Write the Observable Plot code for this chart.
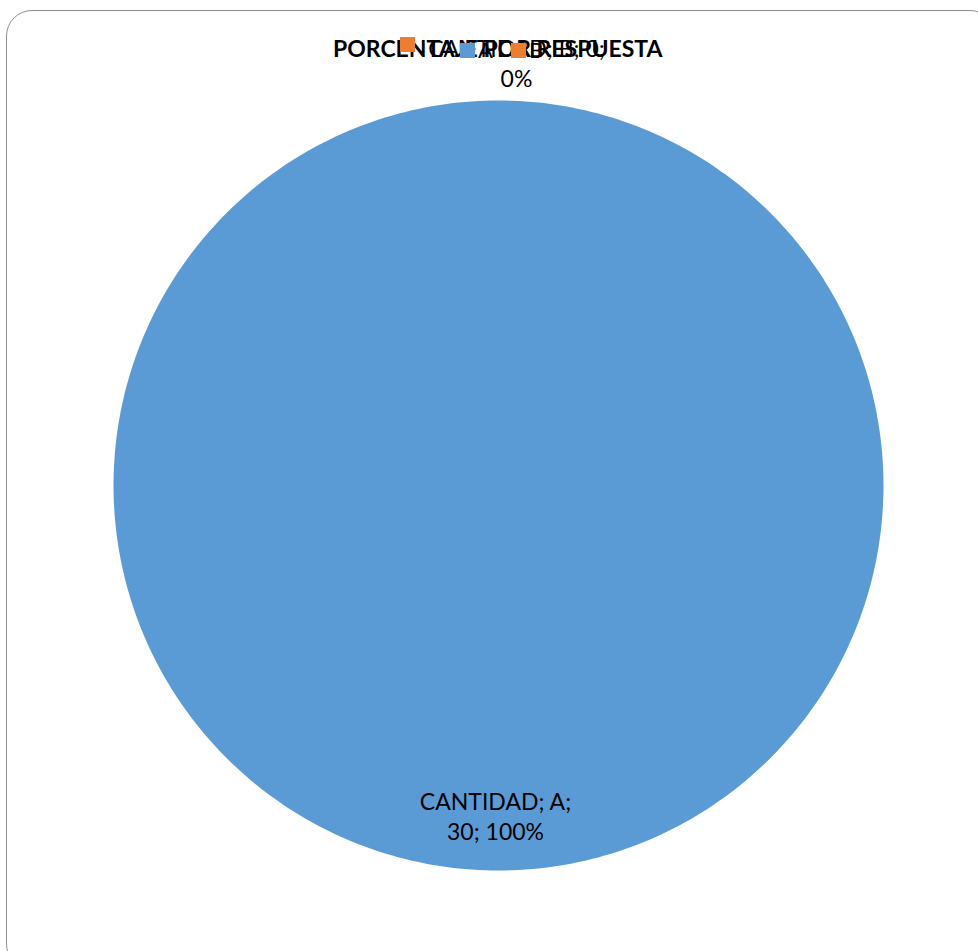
<!DOCTYPE html>
<html>
<head>
<meta charset="utf-8">
<script src="https://cdn.jsdelivr.net/npm/d3@7"></script>
<script src="https://cdn.jsdelivr.net/npm/@observablehq/plot@0.6"></script>
<style>
  html, body { margin: 0; padding: 0; background: #fff; overflow: hidden; }
  #wrap { position: relative; width: 978px; height: 951px; overflow: hidden; font-family: Lato, "Open Sans", sans-serif; }
  #border { position: absolute; left: 6px; top: 10px; width: 990px; height: 960px; border: 1.5px solid #8f8f8f; border-radius: 26px; box-sizing: border-box; }
  #chart { position: absolute; left: 0; top: 0; }
  .ov { position: absolute; white-space: nowrap; color: #000; }
  .sq { position: absolute; width: 15px; height: 15px; }
</style>
</head>
<body>
<div id="wrap">
  <div id="border"></div>
  <div id="chart"></div>
</div>
<script>
// ---- data ----
const title = "PORCENTAJE POR RESPUESTA";
const seriesName = "CANTIDAD";
const categories = ["A", "B"];
const values = [30, 0];
const percents = ["100%", "0%"];
const colors = ["#5B9BD5", "#ED7D31"];

// ---- pie geometry from data ----
const arcs = d3.pie().sort(null).value(d => d)(values);
const rows = [];
arcs.forEach((a, i) => {
  const span = a.endAngle - a.startAngle;
  if (span <= 0) return;
  const n = Math.max(2, Math.ceil(span / (Math.PI / 180)));
  const full = span >= 2 * Math.PI - 1e-9;
  if (!full) rows.push({cat: categories[i], x: 0, y: 0});
  for (let k = 0; k <= n; k++) {
    const t = a.startAngle + span * k / n;
    rows.push({cat: categories[i], x: Math.sin(t), y: Math.cos(t)});
  }
});

// data labels (inside for non-empty slices, outside for empty ones)
const labels = arcs.map((a, i) => {
  const mid = (a.startAngle + a.endAngle) / 2;
  const inside = (a.endAngle - a.startAngle) > 0;
  const r = inside ? 0.857 : 1.1;
  const text = inside
    ? `${seriesName}; ${categories[i]};\n${values[i]}; ${percents[i]}`
    : `${seriesName}; ${categories[i]}; ${values[i]};\n${percents[i]}`;
  return {cat: categories[i], x: r * Math.sin(mid), y: r * Math.cos(mid), text, inside};
});

const plot = Plot.plot({
  width: 978,
  height: 951,
  marginLeft: 113,
  marginRight: 95,
  marginTop: 100,
  marginBottom: 81,
  x: {domain: [-1, 1], axis: null},
  y: {domain: [-1, 1], axis: null},
  color: {domain: categories, range: colors},
  style: {background: "transparent", fontFamily: "Lato, 'Open Sans', sans-serif"},
  marks: [
    Plot.line(rows, {x: "x", y: "y", z: "cat", fill: "cat", stroke: null, curve: "linear"}),
    Plot.text(labels.filter(d => d.inside), {x: "x", y: "y", text: "text", dx: -3, fontSize: 23, lineHeight: 1.3, fill: "#000"}),
    Plot.text(labels.filter(d => !d.inside), {x: "x", y: "y", text: "text", dx: 18, fontSize: 23, lineHeight: 1.3, fill: "#000"})
  ]
});
document.getElementById("chart").appendChild(plot);

// title + legend overlays
const wrap = document.getElementById("wrap");
function addText(txt, left, top, size, weight) {
  const el = document.createElement("div");
  el.className = "ov";
  el.textContent = txt;
  el.style.left = left + "px";
  el.style.top = top + "px";
  el.style.fontSize = size + "px";
  el.style.fontWeight = weight;
  el.style.lineHeight = "1";
  wrap.appendChild(el);
  return el;
}
function addSq(color, left, top) {
  const el = document.createElement("div");
  el.className = "sq";
  el.style.background = color;
  el.style.left = left + "px";
  el.style.top = top + "px";
  wrap.appendChild(el);
}
const t = addText(title, 0, 37, 23, 700);
t.style.left = (498 - t.offsetWidth / 2) + "px";
// legend key of the B data label
addSq(colors[1], 400, 37);
// legend
addSq(colors[0], 460, 43);
addText(categories[0], 478, 39, 22, 400);
addSq(colors[1], 511, 43);
addText(categories[1], 529, 39, 22, 400);
</script>
</body>
</html>
